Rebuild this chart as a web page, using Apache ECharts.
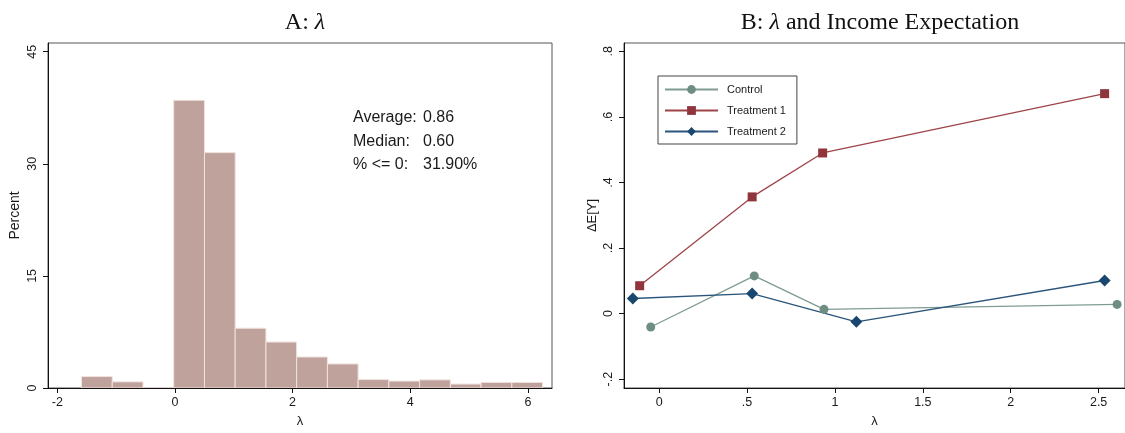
<!DOCTYPE html>
<html>
<head>
<meta charset="utf-8">
<title>lambda</title>
<script src="https://cdn.jsdelivr.net/npm/echarts@6/dist/echarts.min.js"></script>
<style>
  html, body { margin: 0; padding: 0; background: #fff; }
  #chart { width: 1125px; height: 433px; }
</style>
</head>
<body>
<div id="chart"></div>
<script>
// panel A: histogram of lambda
var binEdges = [-1.588, -1.066, -0.543, -0.021, 0.502, 1.024, 1.547, 2.069, 2.592, 3.114, 3.637, 4.159, 4.682, 5.204, 5.727, 6.249];
var binPercent = [1.53, 0.82, 0, 38.5, 31.5, 8.0, 6.15, 4.15, 3.22, 1.13, 0.93, 1.09, 0.53, 0.75, 0.75];
var histTicks = [-2, 0, 2, 4, 6];
var pctTicks = [0, 15, 30, 45];
var statLabels = ["Average:", "Median:", "% <= 0:"];
var statValues = ["0.86", "0.60", "31.90%"];

// panel B: lambda and income expectation
var controlX = [-0.048, 0.541, 0.938, 2.605];
var controlY = [-0.041, 0.115, 0.013, 0.028];
var treat1X = [-0.111, 0.529, 0.930, 2.534];
var treat1Y = [0.085, 0.356, 0.490, 0.671];
var treat2X = [-0.150, 0.529, 1.122, 2.534];
var treat2Y = [0.046, 0.061, -0.025, 0.101];
var lamTicks = [0, 0.5, 1, 1.5, 2, 2.5];
var eyTicks = [-0.2, 0, 0.2, 0.4, 0.6, 0.8];

var sans = "'Liberation Sans', Arial, sans-serif";
var serif = "'Liberation Serif', 'Times New Roman', serif";

// stata style numbers: .5 instead of 0.5
function stataNum(v) {
  var s = String(+(+v).toFixed(2));
  return s.replace(/^(-?)0\./, "$1.");
}

function pairs(xs, ys) {
  var out = [];
  for (var i = 0; i < xs.length; i++) out.push([xs[i], ys[i]]);
  return out;
}

var histData = [];
for (var i = 0; i < binPercent.length; i++) {
  histData.push([binEdges[i], binEdges[i + 1], binPercent[i]]);
}

var statText = [];
for (var k = 0; k < statLabels.length; k++) {
  statText.push({
    type: "text", left: 353, top: 110 + k * 23.4,
    style: { text: statLabels[k], fontFamily: sans, fontSize: 16, fill: "#1a1a1a" }
  });
  statText.push({
    type: "text", left: 423, top: 110 + k * 23.4,
    style: { text: statValues[k], fontFamily: sans, fontSize: 16, fill: "#1a1a1a" }
  });
}

var axisTxt = { color: "#1a1a1a", fontFamily: sans, fontSize: 12.5 };

var myChart = echarts.init(document.getElementById("chart"));
myChart.setOption({
  animation: false,
  backgroundColor: "#fff",
  title: [
    {
      text: "A: {i|λ}", left: 300, top: 6, textAlign: "center",
      textStyle: { fontFamily: serif, fontSize: 24, fontWeight: "normal", color: "#111",
        rich: { i: { fontFamily: serif, fontSize: 24, fontStyle: "italic", color: "#111" } } }
    },
    {
      text: "B: {i|λ} and Income Expectation", left: 875, top: 6, textAlign: "center",
      textStyle: { fontFamily: serif, fontSize: 24, fontWeight: "normal", color: "#111",
        rich: { i: { fontFamily: serif, fontSize: 24, fontStyle: "italic", color: "#111" } } }
    }
  ],
  legend: {
    orient: "vertical",
    left: 658, top: 76,
    padding: [8, 11, 7, 6],
    itemWidth: 53, itemHeight: 11, itemGap: 10,
    borderColor: "#444", borderWidth: 1,
    textStyle: { fontFamily: sans, fontSize: 11, color: "#1a1a1a", padding: [0, 0, 0, 4] },
    data: ["Control", "Treatment 1", "Treatment 2"]
  },
  graphic: statText,
  grid: [
    { left: 48, top: 43, right: 573, bottom: 44, show: true, borderColor: "#555", borderWidth: 1 },
    { left: 624, top: 43, right: -1, bottom: 44, show: true, borderColor: "#555", borderWidth: 1 }
  ],
  xAxis: [
    {
      gridIndex: 0, type: "value", min: -2.158, max: 6.41, z: 5,
      name: "λ", nameLocation: "middle", nameGap: 27,
      nameTextStyle: { fontFamily: sans, fontSize: 13, color: "#1a1a1a" },
      splitLine: { show: false },
      axisLine: { show: true, onZero: false, lineStyle: { color: "#111", width: 1 } },
      axisTick: { show: true, length: 5, lineStyle: { color: "#111" }, customValues: histTicks },
      axisLabel: Object.assign({ margin: 8, customValues: histTicks }, axisTxt)
    },
    {
      gridIndex: 1, type: "value", min: -0.2, max: 2.65, z: 5,
      name: "λ", nameLocation: "middle", nameGap: 27,
      nameTextStyle: { fontFamily: sans, fontSize: 13, color: "#1a1a1a" },
      splitLine: { show: false },
      axisLine: { show: true, onZero: false, lineStyle: { color: "#111", width: 1 } },
      axisTick: { show: true, length: 5, lineStyle: { color: "#111" }, customValues: lamTicks },
      axisLabel: Object.assign({ margin: 8, customValues: lamTicks, formatter: stataNum }, axisTxt)
    }
  ],
  yAxis: [
    {
      gridIndex: 0, type: "value", min: 0, max: 46.17, z: 5,
      name: "Percent", nameLocation: "middle", nameGap: 26,
      nameTextStyle: { fontFamily: sans, fontSize: 14, color: "#1a1a1a" },
      splitLine: { show: false },
      axisLine: { show: true, onZero: false, lineStyle: { color: "#111", width: 1 } },
      axisTick: { show: true, length: 5, lineStyle: { color: "#111" }, customValues: pctTicks },
      axisLabel: Object.assign({ margin: 9, rotate: 90, customValues: pctTicks }, axisTxt)
    },
    {
      gridIndex: 1, type: "value", min: -0.227, max: 0.8255, z: 5,
      name: "ΔE[Y]", nameLocation: "middle", nameGap: 25,
      nameTextStyle: { fontFamily: sans, fontSize: 13, color: "#1a1a1a" },
      splitLine: { show: false },
      axisLine: { show: true, onZero: false, lineStyle: { color: "#111", width: 1 } },
      axisTick: { show: true, length: 5, lineStyle: { color: "#111" }, customValues: eyTicks },
      axisLabel: Object.assign({ margin: 9, rotate: 90, customValues: eyTicks, formatter: stataNum }, axisTxt)
    }
  ],
  series: [
    {
      type: "custom",
      xAxisIndex: 0, yAxisIndex: 0,
      encode: { x: [0, 1], y: 2 },
      data: histData,
      renderItem: function (params, api) {
        var p0 = api.coord([api.value(0), api.value(2)]);
        var p1 = api.coord([api.value(1), 0]);
        return {
          type: "rect",
          shape: { x: p0[0], y: p0[1], width: p1[0] - p0[0], height: p1[1] - p0[1] },
          style: { fill: "#BEA29B", stroke: "#F0E2DF", lineWidth: 1 }
        };
      }
    },
    {
      name: "Control", type: "line", xAxisIndex: 1, yAxisIndex: 1,
      data: pairs(controlX, controlY),
      symbol: "circle", symbolSize: 9,
      itemStyle: { color: "#6E8E84" },
      lineStyle: { color: "#7E9C92", width: 1.3 }
    },
    {
      name: "Treatment 1", type: "line", xAxisIndex: 1, yAxisIndex: 1,
      data: pairs(treat1X, treat1Y),
      symbol: "rect", symbolSize: 9,
      itemStyle: { color: "#90353B" },
      lineStyle: { color: "#9E4449", width: 1.3 }
    },
    {
      name: "Treatment 2", type: "line", xAxisIndex: 1, yAxisIndex: 1,
      data: pairs(treat2X, treat2Y),
      symbol: "diamond", symbolSize: 12,
      itemStyle: { color: "#1A476F" },
      lineStyle: { color: "#2A557C", width: 1.3 }
    }
  ]
});
</script>
</body>
</html>
